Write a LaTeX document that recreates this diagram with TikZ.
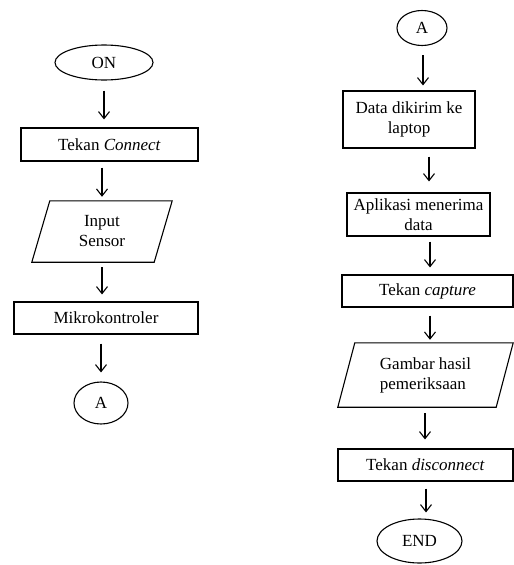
\documentclass[tikz,border=0pt]{standalone}
\usepackage{fontspec}
\setmainfont{Liberation Serif}
\usetikzlibrary{shapes.geometric,arrows.meta}
\tikzset{
  base/.style={draw=black, line width=1.1pt, inner sep=0pt, font=\fontsize{17}{20}\selectfont, text=black},
  term/.style={base, ellipse},
  procbox/.style={base, rectangle, align=center},
  iobox/.style={inner sep=0pt, font=\fontsize{17}{20}\selectfont, text=black},
  iopath/.style={draw=black, line width=1.1pt, line join=miter},
  arr/.style={draw=black, line width=1.1pt, -{Straight Barb[length=7pt,width=11pt,line width=1.1pt]}}
}
\begin{document}
\begin{tikzpicture}[x=1pt,y=-1pt]
\useasboundingbox[fill=white] (0,0) rectangle (514,565);

% ---------- left column ----------
\node[term, minimum width=98pt, minimum height=35pt] (on) at (104,62.5) {ON};
\node[procbox, minimum width=177pt, minimum height=33pt] (connect) at (109.5,144.5) {Tekan \textit{Connect}};
\node[iobox, align=center, minimum width=122pt, minimum height=61pt] (input) at (102,231.5) {Input\\Sensor};
\draw[iopath] ([xshift=9pt]input.north west) -- ([xshift=9pt]input.north east)
  -- ([xshift=-9pt]input.south east) -- ([xshift=-9pt]input.south west) -- cycle;
\node[procbox, minimum width=184pt, minimum height=32pt] (mikro) at (106,318) {Mikrokontroler};
\node[term, minimum width=54pt, minimum height=42pt] (a1) at (101,403) {A};

\draw[arr, shorten <=10pt, shorten >=8pt] (on.south) -- (on.south |- connect.north);
\draw[arr, shorten <=6pt, shorten >=4pt] (input.north |- connect.south) -- (input.north);
\draw[arr, shorten <=5pt, shorten >=7pt] (input.south) -- (input.south |- mikro.north);
\draw[arr, shorten <=9pt, shorten >=9pt] (a1.north |- mikro.south) -- (a1.north);

% ---------- right column ----------
\node[term, minimum width=50pt, minimum height=35pt] (a2) at (422,28) {A};
\node[procbox, minimum width=132pt, minimum height=57pt] (data) at (409,119.5) {Data dikirim ke\\laptop};
\node[procbox, minimum width=143pt, minimum height=43pt] (apl) at (418.5,214.5) {Aplikasi menerima\\data};
\node[procbox, minimum width=171pt, minimum height=32pt] (capture) at (427.5,291) {Tekan \textit{capture}};
\node[iobox, align=left, minimum width=158pt, minimum height=64pt] (gambar) at (425.5,375) {Gambar hasil\\pemeriksaan};
\draw[iopath] ([xshift=8.5pt]gambar.north west) -- ([xshift=8.5pt]gambar.north east)
  -- ([xshift=-8.5pt]gambar.south east) -- ([xshift=-8.5pt]gambar.south west) -- cycle;
\node[procbox, minimum width=175pt, minimum height=32pt] (disc) at (425.5,465) {Tekan \textit{disconnect}};
\node[term, minimum width=85pt, minimum height=44pt] (end) at (419.5,541) {END};

\draw[arr, shorten <=9pt, shorten >=5pt] ([xshift=1pt]a2.south) -- ([xshift=1pt]a2.south |- data.north);
\draw[arr, shorten <=8pt, shorten >=11pt] ([xshift=20pt]data.south) -- ([xshift=20pt]data.south |- apl.north);
\draw[arr, shorten <=5pt, shorten >=7pt] ([xshift=11.5pt]apl.south) -- ([xshift=11.5pt]apl.south |- capture.north);
\draw[arr, shorten <=8pt, shorten >=3pt] ([xshift=2.5pt]capture.south) -- ([xshift=2.5pt]capture.south |- gambar.north);
\draw[arr, shorten <=6pt, shorten >=9pt] ([xshift=-0.5pt]gambar.south) -- ([xshift=-0.5pt]gambar.south |- disc.north);
\draw[arr, shorten <=7pt, shorten >=6pt] ([xshift=0.5pt]disc.south) -- ([xshift=0.5pt]disc.south |- end.north);
\end{tikzpicture}
\end{document}
